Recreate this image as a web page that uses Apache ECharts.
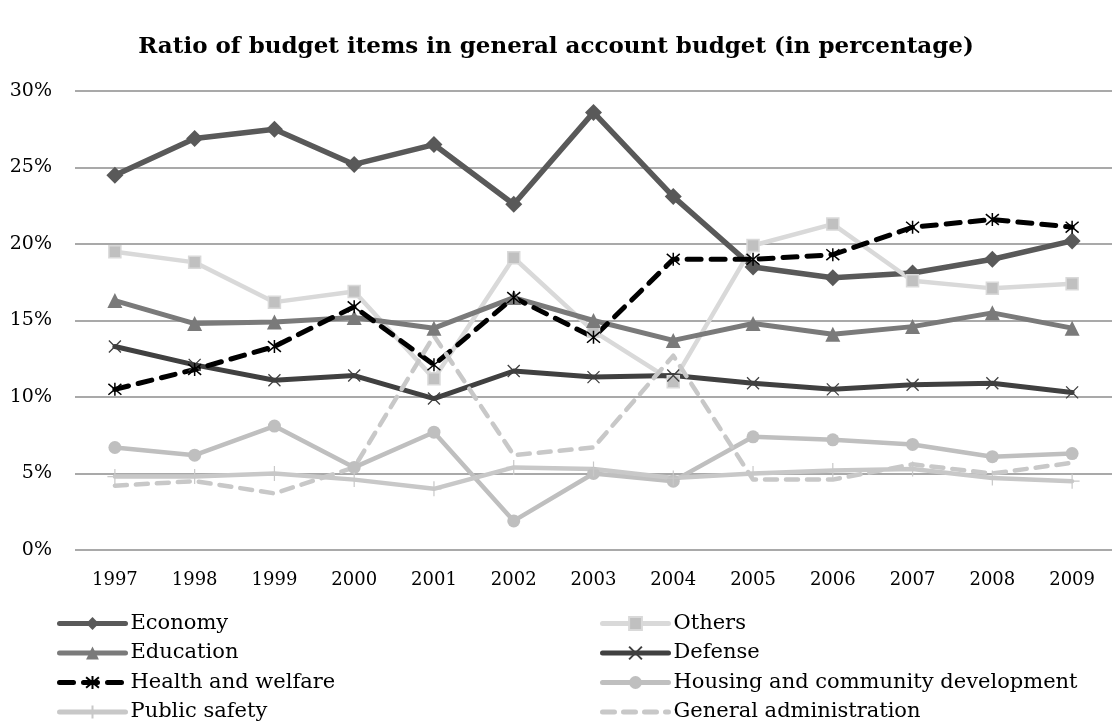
<!DOCTYPE html>
<html>
<head>
<meta charset="utf-8">
<script src="https://cdn.jsdelivr.net/npm/echarts@6/dist/echarts.min.js"></script>
<style>
  html, body { margin: 0; padding: 0; background: #fff; }
  #chart { width: 1112px; height: 725px; }
</style>
</head>
<body>
<div id="chart"></div>
<script>
// Budget item shares of the general account budget, 1997–2009 (%)
const years = ['1997','1998','1999','2000','2001','2002','2003','2004','2005','2006','2007','2008','2009'];

const economy      = [24.5, 26.9, 27.5, 25.2, 26.5, 22.6, 28.6, 23.1, 18.5, 17.8, 18.1, 19.0, 20.2];
const others       = [19.5, 18.8, 16.2, 16.9, 11.2, 19.1, 14.3, 11.0, 19.9, 21.3, 17.6, 17.1, 17.4];
const education    = [16.3, 14.8, 14.9, 15.2, 14.5, 16.5, 15.0, 13.7, 14.8, 14.1, 14.6, 15.5, 14.5];
const defense      = [13.3, 12.1, 11.1, 11.4,  9.9, 11.7, 11.3, 11.4, 10.9, 10.5, 10.8, 10.9, 10.3];
const health       = [10.5, 11.8, 13.3, 15.9, 12.1, 16.5, 13.9, 19.0, 19.0, 19.3, 21.1, 21.6, 21.1];
const housing      = [ 6.7,  6.2,  8.1,  5.4,  7.7,  1.9,  5.0,  4.5,  7.4,  7.2,  6.9,  6.1,  6.3];
const publicSafety = [ 4.8,  4.8,  5.0,  4.6,  4.0,  5.4,  5.3,  4.7,  5.0,  5.2,  5.3,  4.7,  4.5];
const generalAdmin = [ 4.2,  4.5,  3.7,  5.4, 14.0,  6.2,  6.7, 12.7,  4.6,  4.6,  5.6,  5.0,  5.7];

const FONT = '"DejaVu Serif", "Liberation Serif", serif';

const X_PATH = 'path://M0,0L10,10M0,10L10,0';
const STAR_PATH = 'path://M0,1L10,11M0,11L10,1M5,0L5,12';
const PLUS_PATH = 'path://M5,0L5,10M0,5L10,5';

function lineSeries(name, data, color, width, symbol, size, extra) {
  return Object.assign({
    name: name,
    type: 'line',
    data: data,
    symbol: symbol,
    symbolSize: size,
    showSymbol: symbol !== 'none',
    lineStyle: { color: color, width: width, cap: 'round', join: 'round' },
    itemStyle: { color: color },
    emphasis: { disabled: true },
    animation: false
  }, extra || {});
}

const series = [
  lineSeries('Economy', economy, '#595959', 5.5, 'diamond', 17),
  lineSeries('Others', others, '#d9d9d9', 4.5, 'rect', 12, {
    itemStyle: { color: '#c0c0c0', borderColor: '#d9d9d9', borderWidth: 1.5 }
  }),
  lineSeries('Education', education, '#7a7a7a', 5, 'triangle', 15),
  lineSeries('Defense', defense, '#404040', 5, X_PATH, 12, {
    itemStyle: { color: '#404040', borderColor: '#404040', borderWidth: 1.3 }
  }),
  lineSeries('Health and welfare', health, '#000000', 5, STAR_PATH, 13, {
    lineStyle: { color: '#000', width: 5, type: [14, 10], cap: 'round', join: 'round' },
    itemStyle: { color: '#000', borderColor: '#000', borderWidth: 1.5 }
  }),
  lineSeries('Housing and community development', housing, '#bfbfbf', 4.5, 'circle', 13),
  lineSeries('Public safety', publicSafety, '#c8c8c8', 4.5, PLUS_PATH, 15, {
    itemStyle: { color: '#c8c8c8', borderColor: '#c8c8c8', borderWidth: 1.2 }
  }),
  lineSeries('General administration', generalAdmin, '#c8c8c8', 4.5, 'none', 0, {
    lineStyle: { color: '#c8c8c8', width: 4.5, type: [12, 9], cap: 'round', join: 'round' }
  })
];

const legendCommon = {
  orient: 'vertical',
  top: 607,
  height: 130,
  itemWidth: 66,
  itemHeight: 16,
  itemGap: 6.5,
  lineStyle: { width: 5 },
  textStyle: { fontFamily: FONT, fontSize: 21, color: '#000', lineHeight: 23 },
  selectedMode: false
};

const option = {
  backgroundColor: '#fff',
  title: {
    text: 'Ratio of budget items in general account budget (in percentage)',
    left: 'center',
    top: 31,
    textStyle: { fontFamily: FONT, fontSize: 23, fontWeight: 'bold', color: '#000' }
  },
  grid: { left: 75, top: 91, width: 1040, height: 459 },
  xAxis: {
    type: 'category',
    data: years,
    boundaryGap: true,
    axisLine: { show: false },
    axisTick: { show: false },
    axisLabel: { fontFamily: FONT, fontSize: 18, color: '#000', margin: 21 }
  },
  yAxis: {
    type: 'value',
    min: 0,
    max: 30,
    interval: 5,
    axisLine: { show: false },
    axisTick: { show: false },
    axisLabel: { formatter: '{value}%', fontFamily: FONT, fontSize: 19, color: '#000', margin: 23 },
    splitLine: { lineStyle: { color: '#8c8c8c', width: 1.5 } }
  },
  legend: [
    Object.assign({}, legendCommon, {
      left: 52,
      data: ['Economy', 'Education', 'Health and welfare', 'Public safety']
    }),
    Object.assign({}, legendCommon, {
      left: 595,
      data: ['Others', 'Defense', 'Housing and community development',
        { name: 'General administration', itemStyle: { opacity: 0 } }]
    })
  ],
  series: series
};

const chart = echarts.init(document.getElementById('chart'), null, { renderer: 'canvas' });
chart.setOption(option);
</script>
</body>
</html>
